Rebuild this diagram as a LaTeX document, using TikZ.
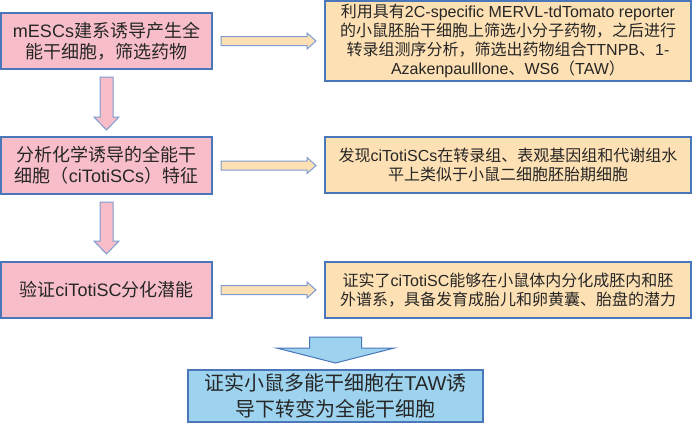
\documentclass[tikz,border=0pt]{standalone}
\usepackage{fontspec}
\setmainfont{Noto Sans CJK SC}
\newfontfamily\latfont{Liberation Sans}
\newcommand{\en}[1]{{\latfont #1}}
\usepackage{tikz}
\usetikzlibrary{calc}
\definecolor{colorPink}{RGB}{247,190,201}
\definecolor{colorOrange}{RGB}{253,224,180}
\definecolor{colorSky}{RGB}{157,211,238}
\definecolor{colorEdge}{RGB}{74,118,186}
\definecolor{colorArrEdge}{RGB}{125,155,208}
\definecolor{colorText}{RGB}{38,38,38}
\newcommand{\downblock}[6]{%
  \draw[#1] let \p1=(#2), \p2=(#3) in
    (\x1-#4,\y1) -- (\x1+#4,\y1) -- (\x1+#4,\y2+#6) -- (\x1+#5,\y2+#6)
    -- (\x1,\y2) -- (\x1-#5,\y2+#6) -- (\x1-#4,\y2+#6) -- cycle;}
\newcommand{\rightblock}[6]{%
  \draw[#1] let \p1=(#2), \p2=(#3) in
    (\x1,\y1-#4) -- (\x2-#6,\y1-#4) -- (\x2-#6,\y1-#5) -- (\x2,\y1)
    -- (\x2-#6,\y1+#5) -- (\x2-#6,\y1+#4) -- (\x1,\y1+#4) -- cycle;}
\tikzset{
   every node/.style={text=colorText},
   box/.style={rectangle,draw=colorEdge,line width=2pt,align=center,inner sep=2pt},
   leftbox/.style={box,fill=colorPink,minimum width=211pt,minimum height=56pt,
                   font=\fontsize{18}{21}\selectfont},
   rightbox/.style={box,fill=colorOrange,minimum width=366pt,minimum height=56pt,
                    font=\fontsize{16}{19}\selectfont},
   endbox/.style={box,fill=colorSky,minimum width=295pt,minimum height=52pt,
                  font=\fontsize{20}{26}\selectfont},
   pinkarr/.style={fill=colorPink,draw=colorArrEdge,line width=1pt,line join=miter},
   orangearr/.style={fill=colorOrange,draw=colorArrEdge,line width=1pt,line join=miter},
   bluearr/.style={fill=colorSky,draw=colorEdge,line width=1pt,line join=miter},
}
\begin{document}
\begin{tikzpicture}[x=1pt,y=-1pt]
      \useasboundingbox (0,0) rectangle (692,423);
      \node[leftbox] (mescs) at (106.5,41) {\en{mESCs}建系诱导产生全\\能干细胞，筛选药物};
      \node[leftbox,minimum height=57pt] (citoti) at (106.5,165.5) {分析化学诱导的全能干\\细胞（\en{ciTotiSCs}）特征};
      \node[leftbox] (diff) at (106.5,290) {验证\en{ciTotiSC}分化潜能};
      \node[rightbox,minimum height=80pt] (screen) at (508,41) {利用具有\en{2C-specific MERVL-tdTomato reporter}\\的小鼠胚胎干细胞上筛选小分子药物，之后进行\\转录组测序分析，筛选出药物组合\en{TTNPB}、\en{1-}\\\en{Azakenpaulllone}、\en{WS6}（\en{TAW}）};
      \node[rightbox] (omics) at (508,165) {发现\en{ciTotiSCs}在转录组、表观基因组和代谢组水\\平上类似于小鼠二细胞胚胎期细胞};
      \node[rightbox] (potent) at (508,290) {证实了\en{ciTotiSC}能够在小鼠体内分化成胚内和胚\\外谱系，具备发育成胎儿和卵黄囊、胎盘的潜力};
      \node[endbox] (concl) at (335.5,396) {证实小鼠多能干细胞在\en{TAW}诱\\导下转变为全能干细胞};
      \downblock{pinkarr}{$(mescs.south)+(0,7)$}{$(citoti.north)+(0,-6)$}{6.5pt}{12.5pt}{13pt}
      \downblock{pinkarr}{$(citoti.south)+(0,7)$}{$(diff.north)+(0,-7)$}{6.5pt}{12.5pt}{13pt}
      \rightblock{orangearr}{$(mescs.east)+(8,0)$}{$(screen.west)+(-8,0)$}{4.5pt}{8pt}{9pt}
      \rightblock{orangearr}{$(citoti.east)+(8,0)$}{$(omics.west)+(-8,0)$}{4.5pt}{8pt}{9pt}
      \rightblock{orangearr}{$(diff.east)+(8,0)$}{$(potent.west)+(-8,0)$}{4.5pt}{8pt}{9pt}
      \downblock{bluearr}{$(concl.north)+(0,-32)$}{$(concl.north)+(0,-6)$}{26pt}{59pt}{15pt}
    \end{tikzpicture}
\end{document}
